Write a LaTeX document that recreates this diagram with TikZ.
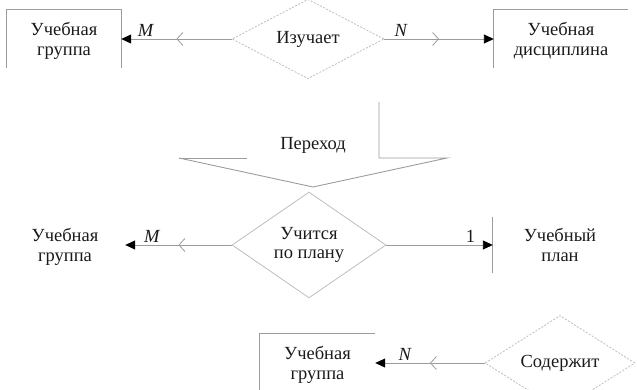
\documentclass[tikz,border=0pt]{standalone}
\usepackage{fontspec}
\setmainfont{Liberation Serif}
\usetikzlibrary{positioning,arrows.meta,shapes.geometric,decorations.markings}
\definecolor{ink}{HTML}{1A1A1A}
\definecolor{line}{HTML}{9C9C9C}
\definecolor{line2}{HTML}{BDBDBD}
\tikzset{
  ent/.style={align=center, font=\fontsize{18.5}{19.5}\selectfont, text=ink, inner sep=0pt,
              minimum height=58, text depth=0pt},
  frm/.style={draw=line, line width=0.9pt},
  rel/.style={draw=line2, line width=0.8pt, diamond, align=center, inner sep=0pt,
              font=\fontsize{18.5}{19.5}\selectfont, text=ink},
  reld/.style={rel, dash pattern=on 2pt off 1.5pt},
  conn/.style={-{Triangle[length=10pt,width=9pt,color=black]}, draw=line, line width=0.9pt},
  many/.style={conn, postaction={decorate}, decoration={markings,
    mark=at position 0.5 with {\arrow[line width=0.8pt]{Straight Barb[length=6pt,width=13pt]}}}},
  card/.style={font=\fontsize{18.5}{19.5}\selectfont, text=ink, inner sep=1pt},
}
\begin{document}
\begin{tikzpicture}[x=1pt,y=-1pt]
\useasboundingbox (0,0) rectangle (637,390);
% row 1
\node[ent, minimum width=114] (grp1) at (64,39)  {Учебная\\ группа};
\node[reld, minimum width=152, minimum height=58] (stud) at (308,39) {Изучает};
\node[ent, minimum width=134] (disc) at (561,39) {Учебная\\ дисциплина};
\draw[frm] (grp1.south west) |- (grp1.north east) -- (grp1.south east);
\draw[frm] (disc.south west) |- (disc.north east);
\draw[many] (stud.west) -- node[card, pos=0.78, above=1pt] {\itshape M} (grp1.east);
\draw[many] (stud.east) -- node[card, pos=0.15, above=1pt] {\itshape N} (disc.west);
% transition
\node[card] (trans) at (313,145) {Переход};
\draw[frm] (179,158) -- (247,158);
\draw[frm] (379,102) -- (379,158) -- (447,158) -- (313,187) -- (179,158);
% row 2
\node[ent, minimum width=120] (grp2) at (65,245) {Учебная\\ группа};
\node[rel, minimum width=154, minimum height=76] (learn) at (309,245) {Учится\\ по плану};
\node[ent, minimum width=134] (plan) at (560,245) {Учебный\\ план};
\draw[frm] ([yshift=28pt]plan.west) -- ([yshift=-28pt]plan.west);
\draw[many] (learn.west) -- node[card, pos=0.75, above=1pt] {\itshape M} (grp2.east);
\draw[conn] (learn.east) -- node[card, pos=0.79, above=1pt] {1} (plan.west);
% row 3
\node[ent, minimum width=115] (grp3) at (317.5,363) {Учебная\\ группа};
\node[reld, minimum width=150, minimum height=58] (cont) at (560,363) {Содержит};
\draw[frm] (grp3.south west) |- (grp3.north east);
\draw[many] (cont.west) -- node[card, pos=0.73, above=1pt] {\itshape N} (grp3.east);
\end{tikzpicture}
\end{document}
